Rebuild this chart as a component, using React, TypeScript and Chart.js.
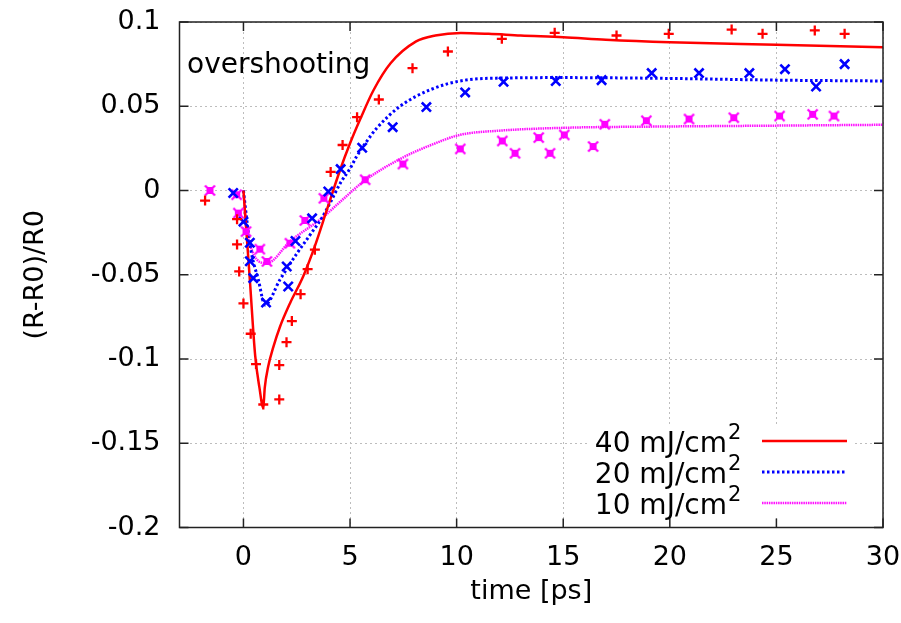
import React, { useEffect, useRef } from "react";
import { Chart, registerables } from "chart.js";

Chart.register(...registerables);

// ---- tick labels ----
const xTicks = [0, 5, 10, 15, 20, 25, 30];
const yTicks = [-0.2, -0.15, -0.1, -0.05, 0, 0.05, 0.1];
const seriesLabels = ["40 mJ/cm", "20 mJ/cm", "10 mJ/cm"];
const annotationText = "overshooting";

// ---- fitted curves (time [ps], (R-R0)/R0) ----
const fit40T = [0, 0.3, 0.55, 0.75, 0.93, 1.0, 1.16, 1.4, 1.71, 2.18, 2.8, 3.35, 3.9, 4.5, 5.0, 5.5, 6.1, 6.9, 8.1, 9.0, 10.2, 11.5, 13, 15, 17, 20, 25, 30];
const fit40V = [0, -0.053, -0.098, -0.117, -0.129, -0.117, -0.1045, -0.093, -0.081, -0.067, -0.051, -0.033, -0.012, 0.011, 0.028, 0.043, 0.0595, 0.0755, 0.0885, 0.092, 0.0935, 0.093, 0.092, 0.091, 0.0895, 0.088, 0.0865, 0.085];

const fit20T = [0, 0.22, 0.38, 0.7, 1.01, 1.71, 2.5, 3.2, 3.67, 4.1, 4.55, 5.0, 5.3, 6.0, 6.25, 7.35, 8.8, 10.4, 12.5, 15, 20, 25, 30];
const fit20V = [0, -0.024, -0.0375, -0.053, -0.068, -0.053, -0.0375, -0.025, -0.0165, -0.0065, 0.0045, 0.013, 0.02, 0.033, 0.037, 0.05, 0.06, 0.0655, 0.0668, 0.067, 0.0665, 0.0655, 0.065];

const fit10T = [0, 0.15, 1.09, 2.2, 3.67, 4.6, 5.7, 7.47, 8.9, 10.15, 12, 15, 20, 25, 30];
const fit10V = [0, -0.024, -0.0432, -0.03, -0.0165, -0.006, 0.006, 0.0195, 0.0275, 0.033, 0.0355, 0.0372, 0.038, 0.0385, 0.039];

// ---- measured points ----
const pts40T = [-1.8, -0.3, -0.3, -0.2, 0.0, 0.34, 0.59, 0.93, 1.68, 1.68, 2.02, 2.27, 2.68, 3.01, 3.35, 4.09, 4.65, 5.33, 6.35, 7.93, 9.59, 12.12, 14.6, 17.5, 19.95, 22.9, 24.35, 26.8, 28.2];
const pts40V = [-0.006, -0.017, -0.032, -0.048, -0.067, -0.085, -0.103, -0.127, -0.124, -0.1036, -0.09, -0.0775, -0.0615, -0.0467, -0.0351, 0.011, 0.027, 0.0435, 0.054, 0.0726, 0.0825, 0.09, 0.0936, 0.092, 0.093, 0.0955, 0.093, 0.095, 0.093];

const pts20T = [-0.48, 0.0, 0.3, 0.3, 0.46, 1.06, 2.03, 2.1, 2.44, 3.22, 3.98, 4.56, 5.57, 7.0, 8.58, 10.4, 12.2, 14.65, 16.8, 19.15, 21.37, 23.73, 25.4, 26.86, 28.2];
const pts20V = [-0.0015, -0.0185, -0.031, -0.042, -0.052, -0.0665, -0.0451, -0.057, -0.03, -0.0165, -0.0006, 0.0127, 0.0254, 0.0376, 0.0495, 0.0582, 0.0645, 0.065, 0.0655, 0.0697, 0.0697, 0.0697, 0.072, 0.0617, 0.075];

const pts10T = [-1.57, -0.32, -0.24, 0.12, 0.77, 1.1, 2.18, 2.88, 3.77, 5.71, 7.48, 10.17, 12.14, 12.74, 13.85, 14.38, 15.05, 16.4, 16.95, 18.9, 20.9, 23.0, 25.15, 26.7, 27.7];
const pts10V = [0.0, -0.0025, -0.0134, -0.0244, -0.0348, -0.0421, -0.0313, -0.0178, -0.0046, 0.0064, 0.0157, 0.0247, 0.0294, 0.0221, 0.0314, 0.0221, 0.033, 0.0261, 0.0393, 0.0414, 0.0424, 0.0432, 0.0442, 0.0452, 0.0442];

const FONT = '"DejaVu Sans", sans-serif';

const zip = (t: number[], v: number[]) => t.map((x, i) => ({ x, y: v[i] }));

const lineStyles = [
  { color: "#ff0000", width: 2.5, dash: [] as number[] },
  { color: "#0000ff", width: 3, dash: [2.5, 2.5] },
  { color: "#ff11ff", width: 2.5, dash: [1.5, 0.8] },
];

function makeBoxMarker(): HTMLCanvasElement {
  const c = document.createElement("canvas");
  c.width = 13;
  c.height = 13;
  const g = c.getContext("2d")!;
  g.fillStyle = "#ff00ff";
  g.fillRect(3, 3, 7, 7);
  g.strokeStyle = "#ff00ff";
  g.lineWidth = 2.2;
  g.beginPath();
  g.moveTo(1.5, 1.5);
  g.lineTo(11.5, 11.5);
  g.moveTo(11.5, 1.5);
  g.lineTo(1.5, 11.5);
  g.stroke();
  return c;
}

const framePlugin = {
  id: "frame",
  afterDatasetsDraw(chart: any) {
    const { ctx, chartArea: a, scales } = chart;
    const x = scales.x;
    const y = scales.y;
    ctx.save();
    // legend box (opaque)
    ctx.fillStyle = "#ffffff";
    ctx.fillRect(588, 425, 264, 93);
    // frame
    ctx.strokeStyle = "#222222";
    ctx.lineWidth = 1.5;
    ctx.setLineDash([]);
    ctx.strokeRect(a.left, a.top, a.right - a.left, a.bottom - a.top);
    const L = 9;
    ctx.beginPath();
    xTicks.forEach((v) => {
      const px = x.getPixelForValue(v);
      ctx.moveTo(px, a.bottom);
      ctx.lineTo(px, a.bottom - L);
      ctx.moveTo(px, a.top);
      ctx.lineTo(px, a.top + L);
    });
    yTicks.forEach((v) => {
      const py = y.getPixelForValue(v);
      ctx.moveTo(a.left, py);
      ctx.lineTo(a.left + L, py);
      ctx.moveTo(a.right, py);
      ctx.lineTo(a.right - L, py);
    });
    ctx.stroke();

    // annotation
    ctx.fillStyle = "#000000";
    ctx.textAlign = "left";
    ctx.textBaseline = "alphabetic";
    ctx.font = `28px ${FONT}`;
    ctx.fillText(annotationText, 187, 73);

    // legend
    const baselines = [452, 483, 514];
    seriesLabels.forEach((lab, i) => {
      const b = baselines[i];
      ctx.fillStyle = "#000000";
      ctx.textAlign = "right";
      ctx.font = `28px ${FONT}`;
      ctx.fillText(lab, 727, b);
      ctx.textAlign = "left";
      ctx.font = `21px ${FONT}`;
      ctx.fillText("2", 728, b - 13);
      const s = lineStyles[i];
      ctx.strokeStyle = s.color;
      ctx.lineWidth = s.width;
      ctx.setLineDash(s.dash);
      ctx.beginPath();
      ctx.moveTo(762, b - 11);
      ctx.lineTo(847, b - 11);
      ctx.stroke();
    });
    ctx.restore();
  },
};

const clearPadding = (s: any) => {
  s.paddingTop = 0;
  s.paddingBottom = 0;
  s.paddingLeft = 0;
  s.paddingRight = 0;
};

export default function App() {
  const ref = useRef<HTMLCanvasElement>(null);
  useEffect(() => {
    const canvas = ref.current!;
    const box = makeBoxMarker();
    const fitDataset = (t: number[], v: number[], i: number) => ({
      data: zip(t, v),
      showLine: true,
      borderColor: lineStyles[i].color,
      borderWidth: lineStyles[i].width,
      borderDash: lineStyles[i].dash,
      pointRadius: 0,
      pointHoverRadius: 0,
      cubicInterpolationMode: "monotone" as const,
      fill: false,
    });
    const chart = new Chart(canvas, {
      type: "scatter",
      data: {
        datasets: [
          {
            data: zip(pts40T, pts40V),
            pointStyle: "cross",
            pointRadius: 5,
            pointBorderWidth: 2.3,
            borderColor: "#ff0000",
            backgroundColor: "#ff0000",
            showLine: false,
          },
          {
            data: zip(pts20T, pts20V),
            pointStyle: "crossRot",
            pointRadius: 6.5,
            pointBorderWidth: 2.6,
            borderColor: "#0000ff",
            backgroundColor: "#0000ff",
            showLine: false,
          },
          {
            data: zip(pts10T, pts10V),
            pointStyle: box as any,
            pointRadius: 6,
            borderColor: "#ff00ff",
            backgroundColor: "#ff00ff",
            showLine: false,
          },
          fitDataset(fit40T, fit40V, 0),
          fitDataset(fit20T, fit20V, 1),
          fitDataset(fit10T, fit10V, 2),
        ] as any,
      },
      options: {
        responsive: false,
        animation: false,
        events: [],
        layout: { padding: { left: 0, top: 22, right: 18, bottom: 0 } },
        plugins: { legend: { display: false }, tooltip: { enabled: false } },
        scales: {
          x: {
            type: "linear",
            min: -3,
            max: 30,
            afterBuildTicks: (s: any) => {
              s.ticks = xTicks.map((v) => ({ value: v }));
            },
            afterFit: (s: any) => {
              s.height = 95.5;
              clearPadding(s);
            },
            ticks: {
              font: { family: FONT, size: 27 },
              color: "#000000",
              padding: 14,
              maxRotation: 0,
              autoSkip: false,
              callback: (v: any) => String(v),
            },
            grid: { color: "#bdbdbd", lineWidth: 1, drawTicks: false },
            border: { display: false, dash: [2, 3] },
            title: {
              display: true,
              text: "time [ps]",
              font: { family: FONT, size: 27 },
              color: "#000000",
              padding: { top: 0, bottom: 15 },
            },
          },
          y: {
            type: "linear",
            min: -0.2,
            max: 0.1,
            afterBuildTicks: (s: any) => {
              s.ticks = yTicks.map((v) => ({ value: v }));
            },
            afterFit: (s: any) => {
              s.width = 179.5;
              clearPadding(s);
            },
            ticks: {
              font: { family: FONT, size: 27 },
              color: "#000000",
              padding: 19,
              autoSkip: false,
              callback: (v: any) => String(Math.round(Number(v) * 100) / 100),
            },
            grid: { color: "#bdbdbd", lineWidth: 1, drawTicks: false },
            border: { display: false, dash: [2, 3] },
            title: {
              display: true,
              text: "(R-R0)/R0",
              font: { family: FONT, size: 27 },
              color: "#000000",
              padding: { top: 20, bottom: 0 },
            },
          },
        },
      },
      plugins: [framePlugin],
    });
    return () => chart.destroy();
  }, []);
  return (
    <div style={{ position: "fixed", left: 0, top: 0, width: 901, height: 623, background: "#ffffff" }}>
      <canvas ref={ref} width={901} height={623} style={{ display: "block", width: 901, height: 623 }} />
    </div>
  );
}
